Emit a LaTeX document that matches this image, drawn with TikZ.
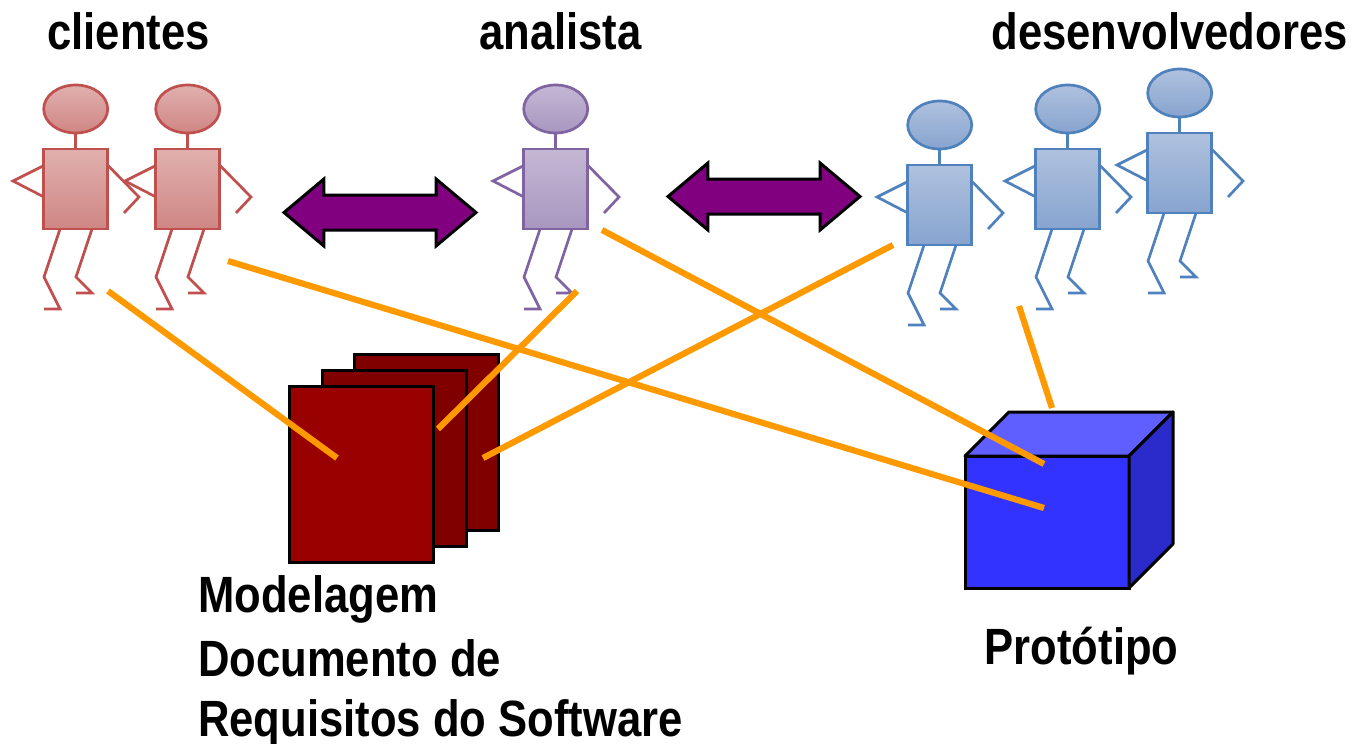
\documentclass[tikz,border=0pt]{standalone}
\usepackage{fontspec}
\setmainfont{Liberation Sans}[FakeStretch=0.855]
\usetikzlibrary{shapes.arrows,shapes.geometric}
\definecolor{redL}{HTML}{C0504D}
\definecolor{redT}{HTML}{E0B0AE}
\definecolor{redB}{HTML}{CF8684}
\definecolor{purL}{HTML}{8064A2}
\definecolor{purT}{HTML}{C4B8D4}
\definecolor{purB}{HTML}{A896C0}
\definecolor{bluL}{HTML}{4F81BD}
\definecolor{bluT}{HTML}{AFC1DE}
\definecolor{bluB}{HTML}{87A4CF}
\definecolor{arrowfill}{HTML}{800080}
\definecolor{org}{HTML}{FF9900}
\definecolor{docA}{HTML}{990000}
\definecolor{docB}{HTML}{800000}
\definecolor{boxF}{HTML}{3333FF}
\definecolor{boxT}{HTML}{5F5FFF}
\definecolor{boxR}{HTML}{2B2BCC}
\tikzset{
  lbl/.style={font=\bfseries\fontsize{51}{60}\selectfont,text=black,inner sep=0pt,anchor=base},
  lblleft/.style={lbl,anchor=base west},
  link/.style={draw=org,line width=6.2pt},
  dbl/.style={double arrow,draw=black,fill=arrowfill,line width=3pt,minimum width=64pt,minimum height=192pt,double arrow head extend=16pt,double arrow tip angle=80,inner sep=16pt},
  page/.style={draw=black,line width=3pt,minimum width=144pt,minimum height=176pt,inner sep=0pt},
  edge/.style={draw=black,line width=3pt,line join=round},
}
\newcommand{\person}[6]{%
 \begin{scope}[shift={(#2,#3)},draw=#4,line width=2.7pt,line join=miter]
  \node[draw=#4,line width=2.7pt,ellipse,top color=#5,bottom color=#6,minimum width=64pt,minimum height=48pt,inner sep=0pt] (#1head) at (31.7,-40) {};
  \node[draw=#4,line width=2.7pt,rectangle,top color=#5,bottom color=#6,minimum width=64pt,minimum height=80pt,inner sep=0pt] (#1body) at (31.7,40) {};
  \draw (#1head.south) -- (#1body.north);
  \draw (0,16.5) -- (-31,32) -- (0,48);
  \draw (64,16.5) -- (95,48) -- (80,64);
  \draw (16,80) -- (0,128) -- (16,160) -- (0,160);
  \draw (48,80) -- (32,128) -- (48,144) -- (32,144);
 \end{scope}}
\begin{document}
\begin{tikzpicture}[x=1pt,y=-1pt]
\useasboundingbox (0,0) rectangle (1355,744);
\person{cA}{44}{149}{redL}{redT}{redB}
\person{cB}{156}{149}{redL}{redT}{redB}
\person{an}{524}{149}{purL}{purT}{purB}
\person{dA}{908}{165}{bluL}{bluT}{bluB}
\person{dB}{1036}{149}{bluL}{bluT}{bluB}
\person{dC}{1148}{133}{bluL}{bluT}{bluB}
\node[dbl] (arrA) at (380,212.5) {};
\node[dbl] (arrB) at (764,196.5) {};
\node[page,fill=docB] (docC) at (426,442.7) {};
\node[page,fill=docB] (docBk) at (394,458.7) {};
\node[page,fill=docA] (docF) at (361.7,474.7) {};
\node[draw=black,fill=boxF,line width=3pt,minimum width=164pt,minimum height=132pt,inner sep=0pt] (boxfront) at (1047,522) {};
\fill[boxT,edge] (965,456) -- (1009,412) -- (1173,412) -- (1129,456) -- cycle;
\fill[boxR,edge] (1129,456) -- (1173,412) -- (1173,544) -- (1129,588) -- cycle;
\coordinate (a1) at (108,291); \coordinate (b1) at (337,458);
\coordinate (a2) at (228,261); \coordinate (b2) at (1044,508);
\coordinate (a3) at (577,291); \coordinate (b3) at (438,429);
\coordinate (a4) at (602,230); \coordinate (b4) at (1044,464);
\coordinate (a5) at (893,245); \coordinate (b5) at (483,458);
\coordinate (a6) at (1019,306); \coordinate (b6) at (1052,408);
\draw[link] (a1) -- (b1);
\draw[link] (a2) -- (b2);
\draw[link] (a3) -- (b3);
\draw[link] (a4) -- (b4);
\draw[link] (a5) -- (b5);
\draw[link] (a6) -- (b6);
\node[lbl] (tA) at (128.5,49) {clientes};
\node[lbl] (tB) at (560.5,49) {analista};
\node[lbl] (tC) at (1169.5,49) {desenvolvedores};
\node[lblleft] (tD) at (198,612.5) {Modelagem};
\node[lblleft] (tE) at (198,676.5) {Documento de};
\node[lblleft] (tF) at (198,736) {Requisitos do Software};
\node[lbl] (tG) at (1081.5,664) {Protótipo};
\end{tikzpicture}
\end{document}
